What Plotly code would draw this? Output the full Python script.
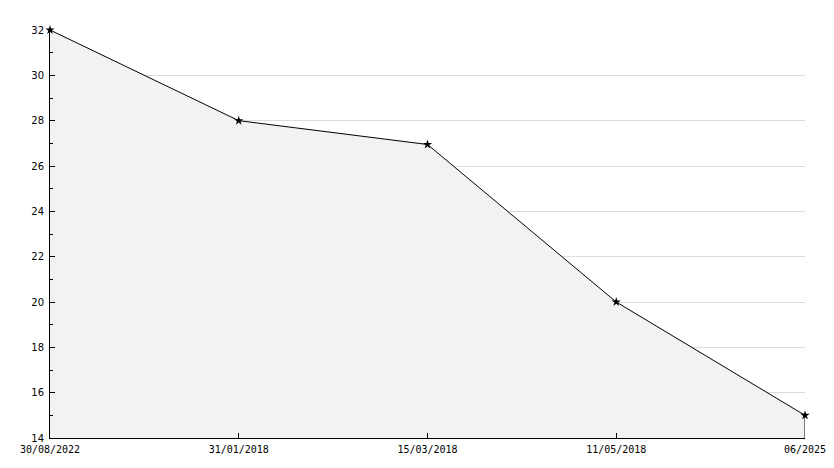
import plotly.graph_objects as go

categories = ["30/08/2022", "31/01/2018", "15/03/2018", "11/05/2018", "06/2025"]
values = [32, 28, 26.95, 20, 15]
y_min, y_max = 14, 32

fig = go.Figure()
fig.add_trace(go.Scatter(
    x=categories, y=values, mode="lines+markers",
    fill="tozeroy", fillcolor="#f2f2f2",
    line=dict(color="black", width=1),
    marker=dict(symbol="star", size=7, color="black"),
    cliponaxis=False,
    hoverinfo="x+y",
))
# closing edge of the area at the last point
fig.add_shape(type="line", xref="x", yref="y",
              x0=categories[-1], x1=categories[-1], y0=y_min, y1=values[-1],
              line=dict(color="black", width=1))

# the page body has an 8px default margin, compensate in the figure size/margins
fig.update_layout(
    width=826, height=460,
    margin=dict(l=42, r=29, t=22, b=30, autoexpand=False),
    paper_bgcolor="white", plot_bgcolor="white",
    showlegend=False,
    font=dict(family="DejaVu Sans", size=10, color="black"),
)
fig.update_xaxes(
    type="category", range=[0, len(categories) - 1],
    showgrid=False, showline=True, linecolor="black", linewidth=1,
    ticks="inside", ticklen=5, tickcolor="black",
    tickfont=dict(family="DejaVu Sans Mono", size=10),
    ticklabelstandoff=2, automargin=False,
    zeroline=False,
)
fig.update_yaxes(
    range=[y_min, y_max], dtick=2, tick0=14,
    showgrid=True, gridcolor="#dcdcdc", gridwidth=1,
    showline=True, linecolor="black", linewidth=1,
    ticks="inside", ticklen=5, tickcolor="black",
    minor=dict(dtick=1, ticks="inside", ticklen=3, tickcolor="black", showgrid=False),
    tickfont=dict(family="DejaVu Sans", size=10),
    ticklabelstandoff=3, automargin=False,
    zeroline=False,
)
fig.write_html("out.html")
